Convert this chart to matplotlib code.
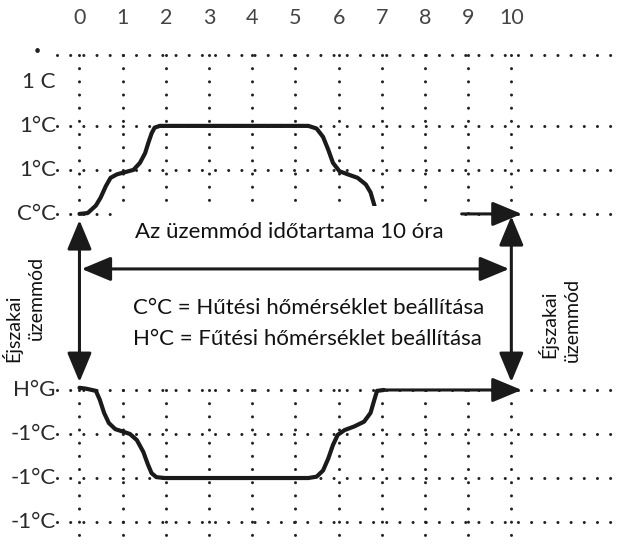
import matplotlib
matplotlib.use('Agg')
import matplotlib.pyplot as plt
import matplotlib.patches as patches

plt.rcParams['font.family'] = ['Lato', 'DejaVu Sans']

# hours on the top scale
hours = list(range(0, 11))

# left side labels and their grid levels
ylab_text = ['1 C', '1°C', '1°C', 'C°C', 'H°G', '-1°C', '-1°C', '-1°C']
ylab_level = [10, 9, 8, 7, 3, 2, 1, 0]

# dotted grid rows
upper_rows = [7, 8, 9, 10.6]
lower_rows = [0, 1, 2, 3]

# cooling set point curve (hour, level)
cool_x = [0, 0.19, 0.38, 0.49, 0.61, 0.72, 0.87, 1.06, 1.25, 1.4, 1.52, 1.59,
          1.67, 1.74, 1.86, 5.3, 5.49, 5.64, 5.76, 5.87, 6.02, 6.21, 6.44,
          6.63, 6.74, 6.83, 6.88]
cool_y = [7.0, 7.02, 7.19, 7.37, 7.63, 7.82, 7.9, 7.95, 8.0, 8.16, 8.38, 8.6,
          8.83, 8.96, 9.0, 9.0, 8.94, 8.75, 8.46, 8.16, 7.97, 7.9, 7.82,
          7.67, 7.49, 7.19, 7.0]

# heating set point curve (hour, level)
heat_x = [0, 0.15, 0.38, 0.47, 0.57, 0.68, 0.83, 1.02, 1.17, 1.33, 1.48, 1.58,
          1.67, 1.78, 1.97, 5.3, 5.49, 5.64, 5.76, 5.87, 5.98, 6.14, 6.36,
          6.59, 6.74, 6.82, 6.89, 7.05]
heat_y = [3.05, 3.03, 2.98, 2.78, 2.48, 2.25, 2.11, 2.05, 2.0, 1.86, 1.59, 1.32,
          1.11, 1.02, 1.0, 1.0, 1.03, 1.17, 1.44, 1.75, 1.98, 2.09, 2.17,
          2.28, 2.48, 2.75, 2.98, 3.0]


def arrow(ax, p0, p1, style):
    ax.add_patch(patches.FancyArrowPatch(
        p0, p1, arrowstyle=style + ',head_length=1.8,head_width=0.75',
        mutation_scale=10, lw=2.2, color='#1a1a1a', shrinkA=0, shrinkB=0,
        zorder=5))


def main():
    fig = plt.figure(figsize=(6.18, 5.48), dpi=100)
    ax = fig.add_axes([0, 0, 1, 1])
    ax.set_xlim(-1.84, 12.47)
    ax.set_ylim(-0.59, 11.86)
    ax.axis('off')

    dots = dict(color='#222222', lw=2.2, linestyle=(0, (0.01, 4.3)),
                dash_capstyle='round', zorder=1)
    for r in upper_rows + lower_rows:
        ax.plot([-0.52, 12.47], [r, r], **dots)
    for h in hours:
        ax.plot([h, h], [10.6, 7], **dots)
        ax.plot([h, h], [3, -0.59], **dots)

    ax.plot(cool_x, cool_y, color='#1a1a1a', lw=3.0, solid_joinstyle='round',
            solid_capstyle='round', zorder=2)
    ax.plot(heat_x, heat_y, color='#1a1a1a', lw=3.0, solid_joinstyle='round',
            solid_capstyle='round', zorder=2)

    # white label box hiding the grid under the duration text
    ax.add_patch(patches.Rectangle((0.8, 6.0), 8.05, 1.17, fc='white',
                                   ec='none', zorder=3))

    # arrows
    arrow(ax, (0, 3.18), (0, 6.86), '<|-|>')
    arrow(ax, (10, 3.18), (10, 6.95), '<|-|>')
    arrow(ax, (0.05, 5.75), (9.95, 5.75), '<|-|>')
    arrow(ax, (8.85, 7), (10.24, 7), '-|>')
    arrow(ax, (heat_x[-1], 3), (10.24, 3), '-|>')

    # texts
    for h in hours:
        ax.text(h, 11.45, str(h), ha='center', va='center', fontsize=15.5,
                color='#444444')
    for t, lv in zip(ylab_text, ylab_level):
        ax.text(-0.55, lv, t, ha='right', va='center', fontsize=16,
                color='#2a2a2a')
    ax.text(-0.98, 10.7, '•', ha='center', va='center', fontsize=9,
            color='#222222')

    ax.text(1.28, 6.59, 'Az üzemmód időtartama 10 óra', ha='left',
            va='center', fontsize=16, color='#111111', zorder=4)
    ax.text(1.24, 4.86, 'C°C = Hűtési hőmérséklet beállítása', ha='left',
            va='center', fontsize=16, color='#111111', zorder=4)
    ax.text(1.24, 4.16, 'H°C = Fűtési hőmérséklet beállítása', ha='left',
            va='center', fontsize=16, color='#111111', zorder=4)

    side = dict(rotation=90, ha='center', va='center', fontsize=14,
                color='#111111')
    ax.text(-1.56, 4.41, 'Éjszakai', **side)
    ax.text(-1.0, 5.09, 'üzemmód', **side)
    ax.text(10.84, 4.5, 'Éjszakai', **side)
    ax.text(11.42, 4.59, 'üzemmód', **side)

    fig.savefig('out.png', dpi=100)


if __name__ == '__main__':
    main()
